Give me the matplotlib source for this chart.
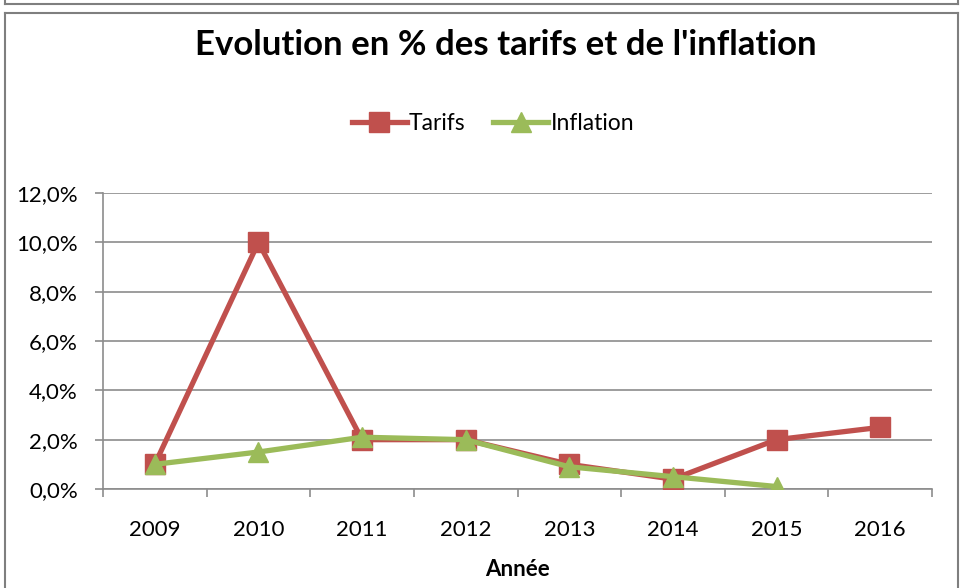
import matplotlib
matplotlib.use("Agg")
import matplotlib.pyplot as plt
from matplotlib.lines import Line2D
from matplotlib.ticker import FuncFormatter, MultipleLocator

years = ["2009", "2010", "2011", "2012", "2013", "2014", "2015", "2016"]
tarifs = [1.0, 10.0, 2.0, 2.0, 1.0, 0.4, 2.0, 2.5]
inflation = [1.0, 1.5, 2.1, 2.0, 0.9, 0.5, 0.1]

W, H = 962, 588
fig = plt.figure(figsize=(W / 100, H / 100), dpi=100)
plt.rcParams['font.family'] = ['Lato', 'DejaVu Sans']

# plot area in pixels
x0, x1 = 103, 932
y0, y1 = 193, 489
ax = fig.add_axes([x0 / W, 1 - y1 / H, (x1 - x0) / W, (y1 - y0) / H])

red = "#C0504D"
green = "#9BBB59"
grid = "#8C8C8C"

xs = list(range(len(years)))
ax.plot(xs, tarifs, color=red, lw=3.8, marker="s", markersize=14,
        label="Tarifs", zorder=3, solid_joinstyle="round")
ax.plot(xs[:len(inflation)], inflation, color=green, lw=3.8, marker="^",
        markersize=15, label="Inflation", zorder=4, solid_joinstyle="round")

ax.set_xlim(-0.5, len(years) - 0.5)
ax.set_ylim(0, 12)
ax.yaxis.set_major_locator(MultipleLocator(2))
ax.yaxis.set_major_formatter(FuncFormatter(lambda v, p: f"{v:.1f}%".replace(".", ",")))
ax.set_xticks(xs)
ax.set_xticklabels(years)
ax.set_xticks([i - 0.5 for i in range(len(years) + 1)], minor=True)
ax.tick_params(axis="x", which="major", length=0, pad=22, labelsize=16)
ax.tick_params(axis="x", which="minor", length=6, color=grid, width=1.2)
ax.tick_params(axis="y", length=6, color=grid, width=1.2, labelsize=16, pad=12)
ax.grid(axis="y", color=grid, lw=1.2)
ax.set_axisbelow(True)
for s in ["top", "right"]:
    ax.spines[s].set_visible(False)
for s in ["left", "bottom"]:
    ax.spines[s].set_color(grid)
    ax.spines[s].set_linewidth(1.2)

ax.set_xlabel("Année", fontsize=16, fontweight="bold", labelpad=14)

fig.text(506 / W, 1 - 45 / H, "Evolution en % des tarifs et de l'inflation",
         ha="center", va="center", fontsize=25, fontweight="bold")

leg = fig.legend(loc="center", bbox_to_anchor=(493 / W, 1 - 124 / H), ncol=2,
                 frameon=False, fontsize=16.5, handlelength=2.4, columnspacing=1.2,
                 handletextpad=0.1)

# frames
fc = "#7F7F7F"
def line(xa, ya, xb, yb):
    fig.add_artist(Line2D([xa / W, xb / W], [1 - ya / H, 1 - yb / H], color=fc, lw=1.5))
line(5, 4, 958, 4)
line(5, 0, 5, 4)
line(958, 0, 958, 4)
line(5, 13, 958, 13)
line(5, 13, 5, 588)
line(958, 13, 958, 588)

fig.savefig("out.png", dpi=100)
